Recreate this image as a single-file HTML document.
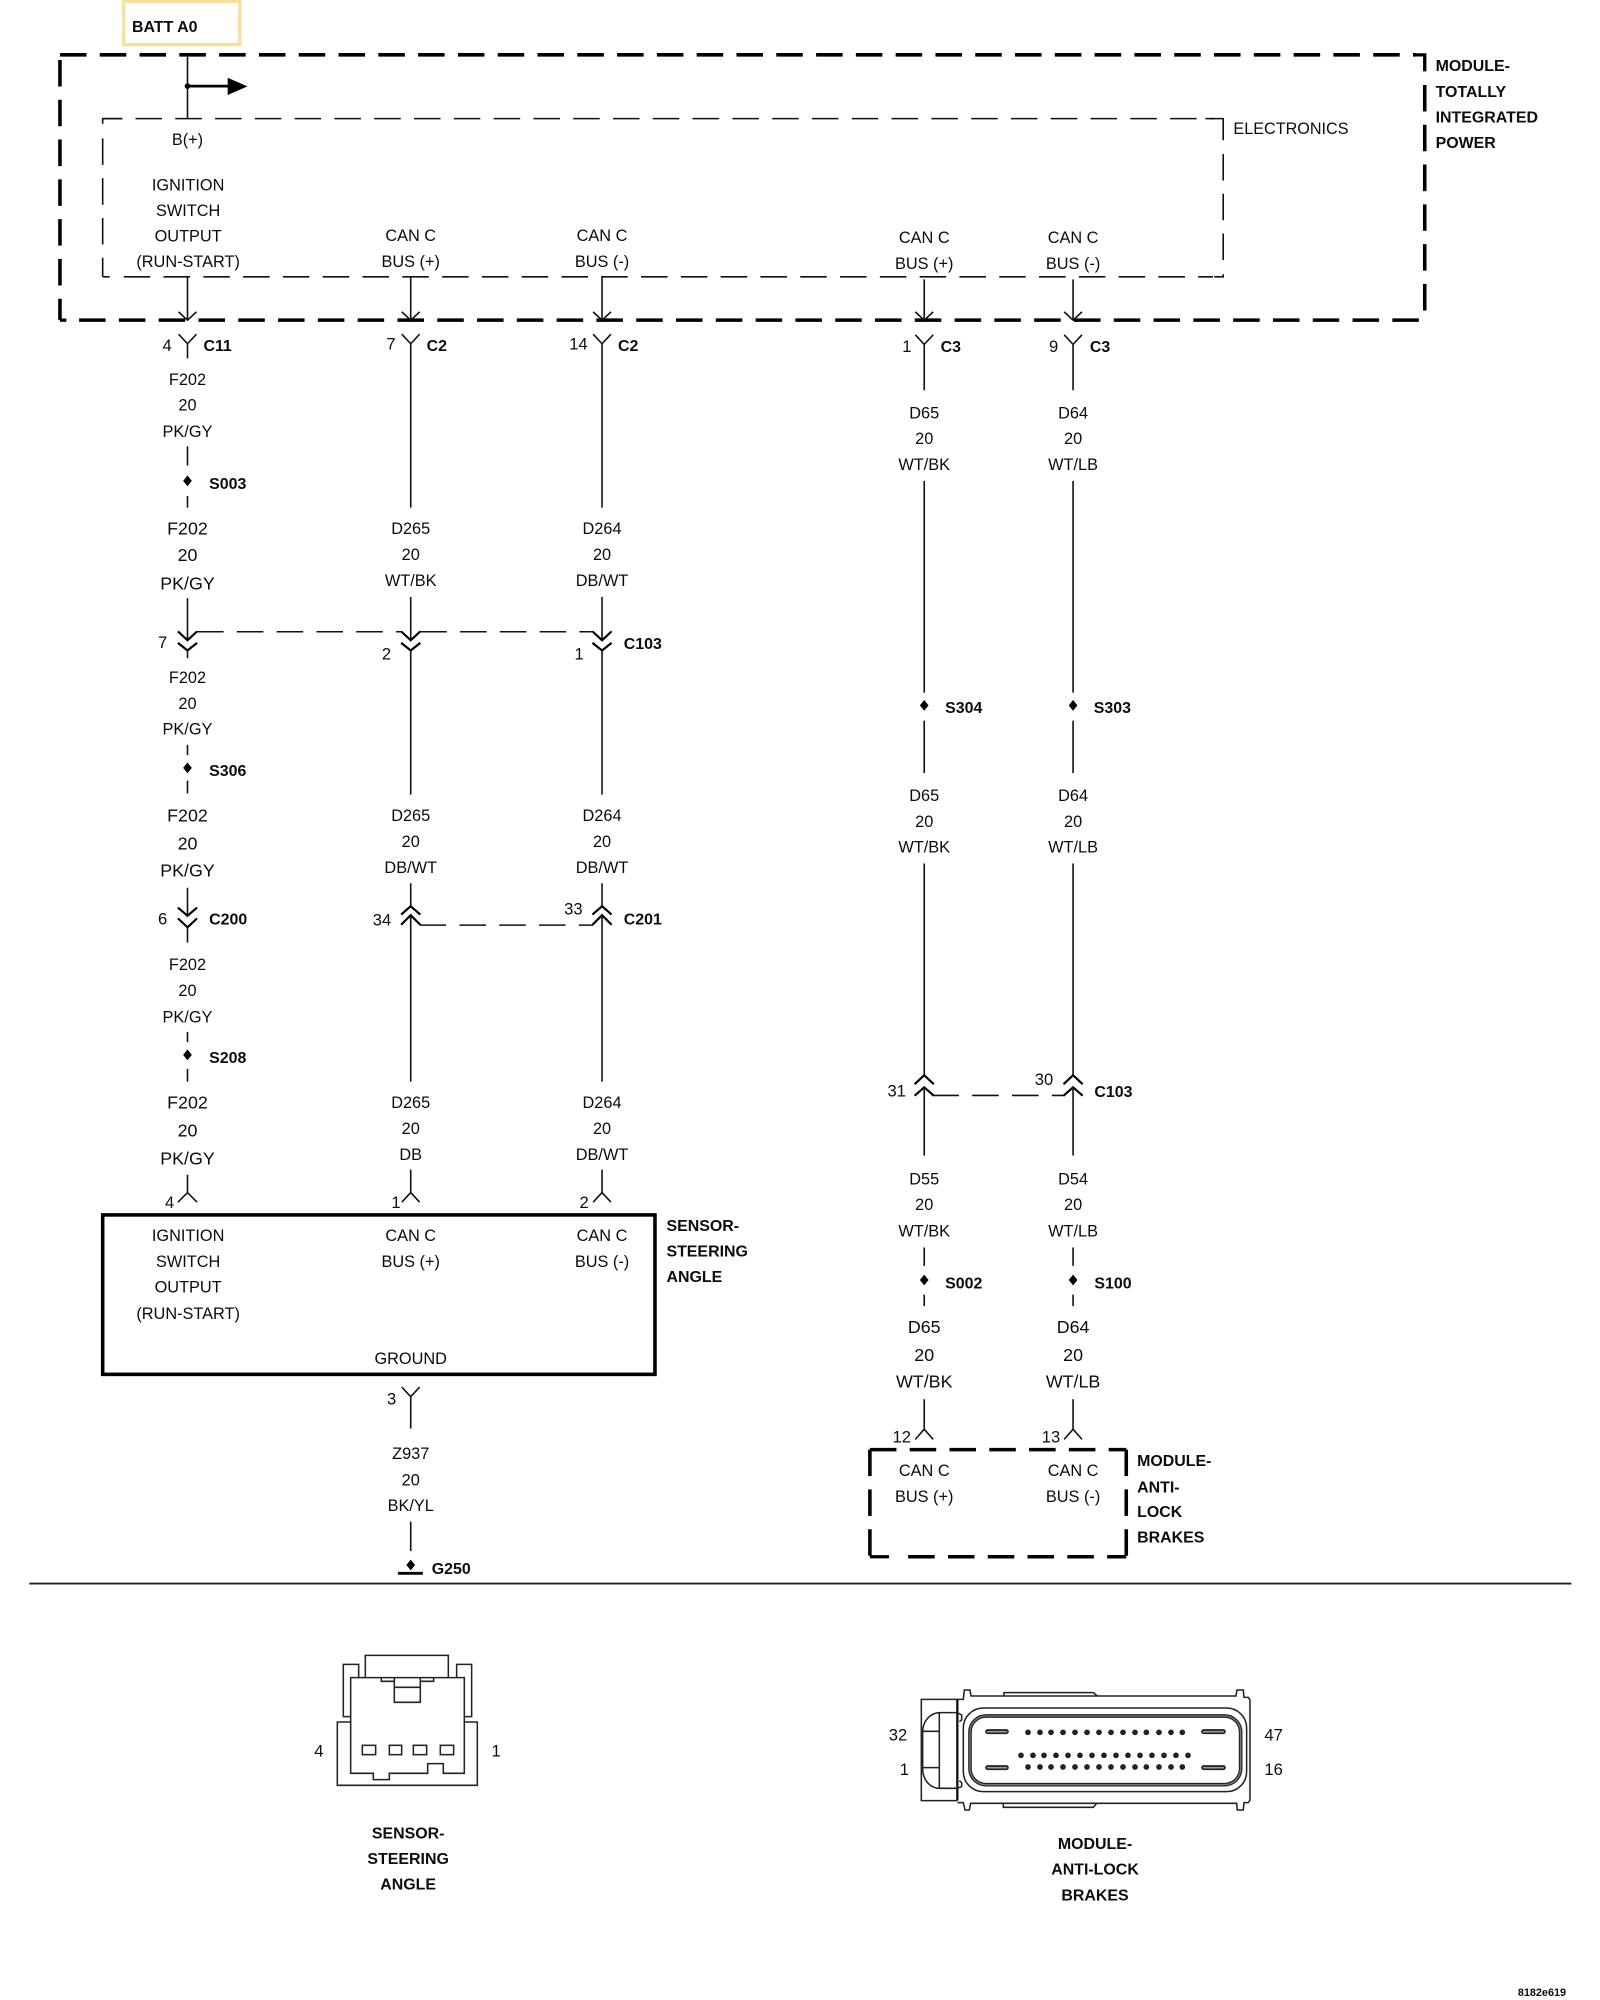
<!DOCTYPE html>
<html><head><meta charset="utf-8"><style>
html,body{margin:0;padding:0;background:#fff}
svg{display:block}
text{font-family:"Liberation Sans",sans-serif;fill:#0c0c0c}
.t{font-size:12.8px;text-anchor:middle}
.u{font-size:14px;text-anchor:middle}
.n{font-size:13px;text-anchor:middle}
.b{font-size:12.5px;font-weight:bold}
.c{font-size:12.5px;font-weight:bold;text-anchor:middle}
.w{fill:none;stroke:#111;stroke-width:1.25}
.x{fill:none;stroke:#000;stroke-width:1.7}
.k{fill:none;stroke:#000;stroke-width:2.6}
.d{fill:none;stroke:#111;stroke-width:1.25;stroke-dasharray:20.8 10.4}
.o{fill:none;stroke:#000;stroke-width:2.8;stroke-dasharray:20.8 10.4}
.v{fill:none;stroke:#222;stroke-width:4.6}
</style></head><body>
<svg width="1600" height="2000" viewBox="0 0 1600 2000" xmlns="http://www.w3.org/2000/svg">
<defs><path id="s" d="M0 -4.2L3.4 0L0 4.2L-3.4 0Z" fill="#000"/></defs>
<rect width="1600" height="2000" fill="#fff"/>
<g transform="scale(1.2755)">
<rect x="97" y="1" width="91" height="34" fill="#fff" stroke="#f6e09a" stroke-width="2.6"/>
<text class="b" x="103.500" y="25">BATT A0</text>

<!-- outer module dashed box -->
<path class="o" d="M47 43H1110"/>
<path class="k" d="M1108 43H1117V56"/>
<path class="o" d="M1117 66.6V244"/>
<path class="o" d="M47 47V251"/>
<path class="k" d="M47 251H52"/>
<path class="o" d="M62 251H1114"/>
<!-- electronics dashed box -->
<path class="d" stroke-dashoffset="5.5" d="M80.5 93H952"/>
<path class="w" d="M80.5 97V93H96 M945 93H959V110"/>
<path class="d" d="M80.5 108.5V217"/>
<path class="w" d="M80.5 217H86"/>
<path class="d" d="M97 217H951"/>
<path class="d" d="M959 120.7V205"/>
<path class="w" d="M952 217H959V215"/>

<!-- top branch -->
<path class="w" d="M147 43V93M147 217V251M140 244.5L147 251L154 244.5"/>
<path fill="none" stroke="#000" stroke-width="2.2" d="M147 67.5H180"/>
<path d="M178.5 61L194 67.7L178.5 74.5Z" fill="#000"/>
<circle cx="147" cy="67.5" r="2.2" fill="#000"/>
<path class="w" d="M322 217V251M315 244.5L322 251L329 244.5M472 217V251M465 244.5L472 251L479 244.5"/>
<path class="w" d="M724.6 219V251M717.6 244.5L724.6 251L731.6 244.5M841.3 219V251M834.3 244.5L841.3 251L848.3 244.5"/>

<text class="t" x="147" y="113.5">B(+)</text>
<text class="t" x="147.500" y="149.5">IGNITION</text>
<text class="t" x="147.500" y="169.5">SWITCH</text>
<text class="t" x="147.500" y="189.5">OUTPUT</text>
<text class="t" x="147.500" y="209.5">(RUN-START)</text>
<text class="t" x="322" y="189">CAN C</text>
<text class="t" x="322" y="209.5">BUS (+)</text>
<text class="t" x="472" y="189">CAN C</text>
<text class="t" x="472" y="209.5">BUS (-)</text>
<text class="t" x="724.6" y="190.5">CAN C</text>
<text class="t" x="724.6" y="211">BUS (+)</text>
<text class="t" x="841.3" y="190.5">CAN C</text>
<text class="t" x="841.3" y="211">BUS (-)</text>
<text x="967" y="105" style="font-size:12.7px">ELECTRONICS</text>
<text class="b" x="1125.500" y="55.500">MODULE-</text>
<text class="b" x="1125.500" y="76">TOTALLY</text>
<text class="b" x="1125.500" y="96">INTEGRATED</text>
<text class="b" x="1125.500" y="116">POWER</text>

<!-- Y connectors row -->
<path class="w" d="M140 262L147 269.5L154 262M147 269.5V281"/>
<path class="w" d="M315 262L322 269.5L329 262M322 269.5V398"/>
<path class="w" d="M465 262L472 269.5L479 262M472 269.5V398"/>
<path class="w" d="M717.6 262.5L724.6 270L731.6 262.5M724.6 270V306"/>
<path class="w" d="M834.3 262.5L841.3 270L848.3 262.5M841.3 270V306"/>
<text class="n" x="131" y="275">4</text><text class="b" x="159.500" y="275">C11</text>
<text class="n" x="306.500" y="274">7</text><text class="b" x="334.500" y="275">C2</text>
<text class="n" x="453.500" y="274">14</text><text class="b" x="484.500" y="275">C2</text>
<text class="n" x="711" y="276">1</text><text class="b" x="737.500" y="276">C3</text>
<text class="n" x="826" y="276">9</text><text class="b" x="854.500" y="276">C3</text>

<!-- column 1 -->
<text class="t" x="147" y="302">F202</text>
<text class="t" x="147" y="322">20</text>
<text class="t" x="147" y="342.500">PK/GY</text>
<path class="w" d="M147 350V365M147 389V398"/>
<use href="#s" x="147" y="377"/>
<text class="b" x="164" y="383.500">S003</text>
<text class="u" x="147" y="419">F202</text>
<text class="u" x="147" y="440">20</text>
<text class="u" x="147" y="462">PK/GY</text>
<path class="w" d="M147 469V502"/>
<path class="x" d="M139.500 495L147 502L154.500 495"/>
<path class="x" d="M139.500 504L147 510L154.500 504"/>
<path class="w" d="M147 510V516"/>
<text class="n" x="127.500" y="508">7</text>
<text class="t" x="147" y="535.500">F202</text>
<text class="t" x="147" y="556">20</text>
<text class="t" x="147" y="576">PK/GY</text>
<path class="w" d="M147 584V592M147 612V622"/>
<use href="#s" x="147" y="602"/>
<text class="b" x="164" y="608.500">S306</text>
<text class="u" x="147" y="644">F202</text>
<text class="u" x="147" y="666">20</text>
<text class="u" x="147" y="687">PK/GY</text>
<path class="w" d="M147 696V718"/>
<path class="x" d="M139.500 711.500L147 718L154.500 711.500"/>
<path class="x" d="M139.500 720L147 727L154.500 720"/>
<path class="w" d="M147 727V739"/>
<text class="n" x="127.500" y="725">6</text><text class="b" x="164" y="725">C200</text>
<text class="t" x="147" y="760.500">F202</text>
<text class="t" x="147" y="781">20</text>
<text class="t" x="147" y="801.500">PK/GY</text>
<path class="w" d="M147 809V817M147 838V848"/>
<use href="#s" x="147" y="827"/>
<text class="b" x="164" y="833.500">S208</text>
<text class="u" x="147" y="869">F202</text>
<text class="u" x="147" y="891">20</text>
<text class="u" x="147" y="913">PK/GY</text>
<path class="w" d="M147 921V935M139.500 942.500L147 935L154.500 942.500"/>
<text class="n" x="133" y="947">4</text>

<!-- column 2 -->
<text class="t" x="322" y="418.500">D265</text>
<text class="t" x="322" y="439">20</text>
<text class="t" x="322" y="459.500">WT/BK</text>
<path class="w" d="M322 468V502"/>
<path class="x" d="M314.500 495L322 502L329.500 495"/>
<path class="x" d="M314.500 504L322 510L329.500 504"/>
<path class="w" d="M322 510V623"/>
<text class="n" x="303" y="517">2</text>
<text class="t" x="322" y="643.500">D265</text>
<text class="t" x="322" y="664">20</text>
<text class="t" x="322" y="684.500">DB/WT</text>
<path class="w" d="M322 692.500V710.500"/>
<path class="x" d="M314.500 717L322 710.500L329.500 717"/>
<path class="x" d="M314.500 725L322 717.500L329.500 725"/>
<path class="w" d="M322 717.500V848"/>
<text class="n" x="299.500" y="725.500">34</text>
<text class="t" x="322" y="868.500">D265</text>
<text class="t" x="322" y="889">20</text>
<text class="t" x="322" y="909.500">DB</text>
<path class="w" d="M322 917V935M315 942.500L322 935L329 942.500"/>
<text class="n" x="310.500" y="947">1</text>

<!-- column 3 -->
<text class="t" x="472" y="418.500">D264</text>
<text class="t" x="472" y="439">20</text>
<text class="t" x="472" y="459.500">DB/WT</text>
<path class="w" d="M472 468V502"/>
<path class="x" d="M464.500 495L472 502L479.500 495"/>
<path class="x" d="M464.500 504L472 510L479.500 504"/>
<path class="w" d="M472 510V623"/>
<text class="n" x="454" y="517">1</text><text class="b" x="489" y="509">C103</text>
<text class="t" x="472" y="643.500">D264</text>
<text class="t" x="472" y="664">20</text>
<text class="t" x="472" y="684.500">DB/WT</text>
<path class="w" d="M472 692.500V710.500"/>
<path class="x" d="M464.500 717L472 710.500L479.500 717"/>
<path class="x" d="M464.500 725L472 717.500L479.500 725"/>
<path class="w" d="M472 717.500V848"/>
<text class="n" x="449.500" y="717">33</text><text class="b" x="489" y="725">C201</text>
<text class="t" x="472" y="868.500">D264</text>
<text class="t" x="472" y="889">20</text>
<text class="t" x="472" y="909.500">DB/WT</text>
<path class="w" d="M472 917V935M465 942.500L472 935L479 942.500"/>
<text class="n" x="458" y="947">2</text>

<!-- dashed harness links -->
<path class="d" d="M154.500 495.300H314.500"/>
<path class="d" d="M329.500 495.300H464.500"/>
<path class="d" d="M329 725.300H465"/>
<path class="d" d="M731 858.800H835"/>

<!-- sensor box -->
<rect x="80.500" y="952.500" width="433" height="125" fill="none" stroke="#000" stroke-width="2.8"/>
<text class="t" x="147.500" y="973">IGNITION</text>
<text class="t" x="147.500" y="993.500">SWITCH</text>
<text class="t" x="147.500" y="1013.500">OUTPUT</text>
<text class="t" x="147.500" y="1034">(RUN-START)</text>
<text class="t" x="322" y="973">CAN C</text>
<text class="t" x="322" y="993.500">BUS (+)</text>
<text class="t" x="472" y="973">CAN C</text>
<text class="t" x="472" y="993.500">BUS (-)</text>
<text class="t" x="322" y="1069.500">GROUND</text>
<text class="b" x="522.500" y="965">SENSOR-</text>
<text class="b" x="522.500" y="985">STEERING</text>
<text class="b" x="522.500" y="1005">ANGLE</text>
<path class="w" d="M315 1087.500L322 1095L329 1087.500M322 1095V1120"/>
<text class="n" x="307" y="1101">3</text>
<text class="t" x="322" y="1144">Z937</text>
<text class="t" x="322" y="1164.500">20</text>
<text class="t" x="322" y="1184.500">BK/YL</text>
<path class="w" d="M322 1193V1216"/>
<use href="#s" x="322" y="1227"/>
<path d="M312 1233.500H331.500" stroke="#000" stroke-width="2.2" fill="none"/>
<text class="b" x="338.500" y="1234">G250</text>
<path d="M23 1241.500H1232" stroke="#222" stroke-width="1.5" fill="none"/>

<!-- column 4 -->
<text class="t" x="724.600" y="328">D65</text>
<text class="t" x="724.600" y="348">20</text>
<text class="t" x="724.600" y="368.500">WT/BK</text>
<path class="w" d="M724.600 377V543M724.600 565V606"/>
<use href="#s" x="724.600" y="553"/>
<text class="b" x="741" y="559">S304</text>
<text class="t" x="724.600" y="628">D65</text>
<text class="t" x="724.600" y="648.500">20</text>
<text class="t" x="724.600" y="668.500">WT/BK</text>
<path class="w" d="M724.600 677V843"/>
<path class="x" d="M717.100 850L724.600 843L732.100 850"/>
<path class="x" d="M717.100 859L724.600 852.500L732.100 859"/>
<path class="w" d="M724.600 852.500V906"/>
<text class="n" x="703" y="859.500">31</text>
<text class="t" x="724.600" y="928.500">D55</text>
<text class="t" x="724.600" y="948.500">20</text>
<text class="t" x="724.600" y="969.500">WT/BK</text>
<path class="w" d="M724.600 978V992.500M724.600 1015V1024"/>
<use href="#s" x="724.600" y="1003.500"/>
<text class="b" x="741" y="1010">S002</text>
<text class="u" x="724.600" y="1045">D65</text>
<text class="u" x="724.600" y="1067">20</text>
<text class="u" x="724.600" y="1088">WT/BK</text>
<path class="w" d="M724.600 1097V1120.500M717.600 1128.500L724.600 1120.500L731.600 1128.500"/>
<text class="n" x="707" y="1131">12</text>

<!-- column 5 -->
<text class="t" x="841.300" y="328">D64</text>
<text class="t" x="841.300" y="348">20</text>
<text class="t" x="841.300" y="368.500">WT/LB</text>
<path class="w" d="M841.300 377V543M841.300 565V606"/>
<use href="#s" x="841.300" y="553"/>
<text class="b" x="857.500" y="559">S303</text>
<text class="t" x="841.300" y="628">D64</text>
<text class="t" x="841.300" y="648.500">20</text>
<text class="t" x="841.300" y="668.500">WT/LB</text>
<path class="w" d="M841.300 677V843"/>
<path class="x" d="M833.800 850L841.300 843L848.800 850"/>
<path class="x" d="M833.800 859L841.300 852.500L848.800 859"/>
<path class="w" d="M841.300 852.500V906"/>
<text class="n" x="818.500" y="850.500">30</text><text class="b" x="858" y="860">C103</text>
<text class="t" x="841.300" y="928.500">D54</text>
<text class="t" x="841.300" y="948.500">20</text>
<text class="t" x="841.300" y="969.500">WT/LB</text>
<path class="w" d="M841.300 978V992.500M841.300 1015V1024"/>
<use href="#s" x="841.300" y="1003.500"/>
<text class="b" x="858" y="1010">S100</text>
<text class="u" x="841.300" y="1045">D64</text>
<text class="u" x="841.300" y="1067">20</text>
<text class="u" x="841.300" y="1088">WT/LB</text>
<path class="w" d="M841.300 1097V1120.500M834.300 1128.500L841.300 1120.500L848.300 1128.500"/>
<text class="n" x="824" y="1131">13</text>

<!-- ABS dashed box -->
<path class="o" d="M682 1136.500H883"/>
<path class="o" d="M682 1136.500V1220.500"/>
<path class="o" d="M883 1136.500V1220.500"/>
<path class="k" d="M682 1220.500H697"/>
<path class="o" d="M712 1220.500H883"/>
<text class="t" x="724.600" y="1157">CAN C</text>
<text class="t" x="724.600" y="1177.500">BUS (+)</text>
<text class="t" x="841.300" y="1157">CAN C</text>
<text class="t" x="841.300" y="1177.500">BUS (-)</text>
<text class="b" x="891.500" y="1149.500">MODULE-</text>
<text class="b" x="891.500" y="1170">ANTI-</text>
<text class="b" x="891.500" y="1189.500">LOCK</text>
<text class="b" x="891.500" y="1209.500">BRAKES</text>

<!-- bottom labels -->
<text class="n" x="250" y="1377">4</text>
<text class="n" x="389" y="1377">1</text>
<text class="c" x="320" y="1441.500">SENSOR-</text>
<text class="c" x="320" y="1461.500">STEERING</text>
<text class="c" x="320" y="1481.500">ANGLE</text>
<text class="n" x="704" y="1364.500">32</text>
<text class="n" x="709" y="1391.500">1</text>
<text class="n" x="998.500" y="1364.500">47</text>
<text class="n" x="998.500" y="1391.500">16</text>
<text class="c" x="858.500" y="1449.500">MODULE-</text>
<text class="c" x="858.500" y="1469.500">ANTI-LOCK</text>
<text class="c" x="858.500" y="1490">BRAKES</text>
<text x="1190" y="1565" style="font-size:8.500px;font-weight:bold">8182e619</text>
</g>

<!-- sensor connector view -->
<g transform="translate(280,1630) scale(.3333)">
<path class="v" d="M212 276H172V466H592V276H553"/>
<path class="v" d="M212 143H553V430H490V401H443V430H328V449H280V430H212Z"/>
<path class="v" d="M343 143V217H421V143M343 172H421M304 143V154H343M421 154H461V143"/>
<path class="v" d="M256 143V76H505V143M212 260H190V103H236V143M553 260H575V103H530V143"/>
<rect class="v" x="247" y="346" width="40" height="28"/>
<rect class="v" x="328" y="346" width="37" height="28"/>
<rect class="v" x="400" y="346" width="40" height="28"/>
<rect class="v" x="481" y="346" width="40" height="28"/>
</g>

<!-- ABS connector view -->
<g transform="translate(880,1670) scale(.3333)">
<path class="v" d="M232 88H250L253 60H270L273 78H1068L1071 60H1090L1092 82H1105L1110 90V390L1105 398H1092L1090 420H1072L1070 400H272L268 420H255L250 398H232"/>
<path class="v" d="M372 78V68H640L652 78M370 400V412H640L650 400"/>
<path class="v" d="M232 88H124V392H232"/>
<path d="M232 88V392" fill="none" stroke="#111" stroke-width="7"/>
<path class="v" d="M232 128H180C150 128 128 155 128 185V295C128 330 150 355 180 355H232M178 128V355M128 184H178M128 293H178M232 128L245 135V150L238 155M232 355L245 350V338L238 332"/>
<rect class="v" x="250" y="114" width="850" height="251" rx="60"/>
<rect x="270" y="138" width="812" height="206" rx="48" fill="none" stroke="#222" stroke-width="11"/>
<rect x="270" y="138" width="812" height="206" rx="48" fill="none" stroke="#777" stroke-width="4"/>
<g fill="none" stroke-linecap="round">
<path stroke="#222" stroke-width="15" d="M323 185H379M323 293H379M971 185H1030M971 293H1030"/>
<path stroke="#999" stroke-width="5" d="M323 185H379M323 293H379M971 185H1030M971 293H1030"/>
</g>
<path fill="none" stroke="#222" stroke-width="17" stroke-linecap="round" d="M444 187h.1M480 187h.1M513 187h.1M549 187h.1M585 187h.1M621 187h.1M657 187h.1M693 187h.1M729 187h.1M765 187h.1M799 187h.1M837 187h.1M873 187h.1M907 187h.1M423 256h.1M459 256h.1M492 256h.1M528 256h.1M564 256h.1M600 256h.1M636 256h.1M672 256h.1M708 256h.1M744 256h.1M780 256h.1M816 256h.1M852 256h.1M888 256h.1M924 256h.1M444 291h.1M480 291h.1M513 291h.1M549 291h.1M585 291h.1M621 291h.1M657 291h.1M693 291h.1M729 291h.1M765 291h.1M799 291h.1M837 291h.1M873 291h.1M907 291h.1"/>
</g>
</svg>
</body></html>
